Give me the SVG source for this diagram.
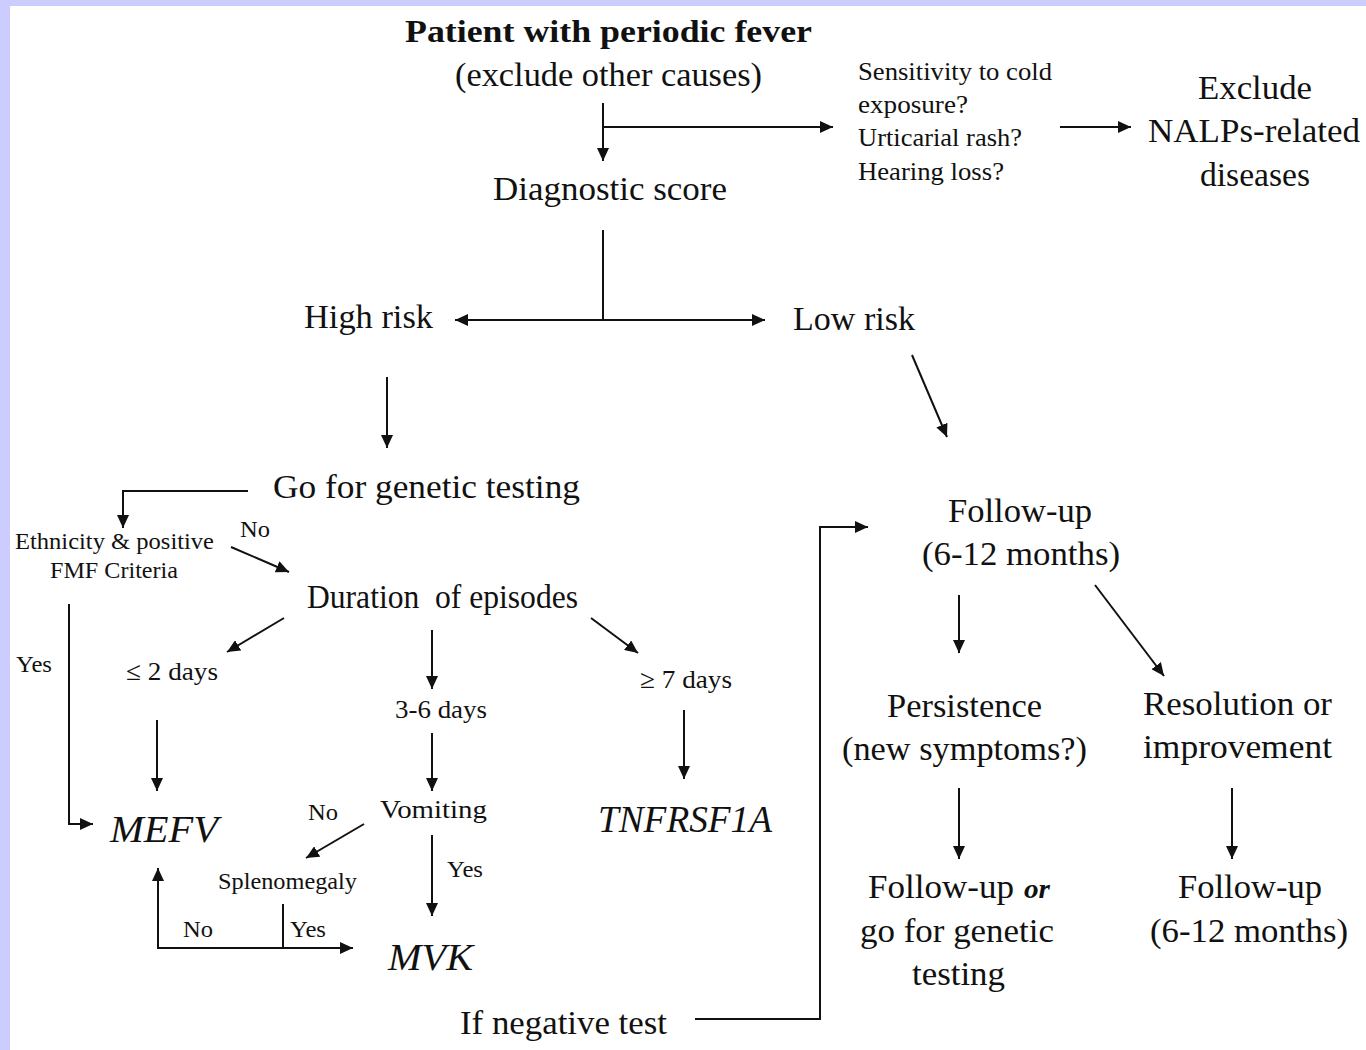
<svg xmlns="http://www.w3.org/2000/svg" width="1366" height="1050" viewBox="0 0 1366 1050" font-family="'Liberation Serif', Tinos, 'Times New Roman', Times, serif">
<defs>
<marker id="ah" markerUnits="userSpaceOnUse" markerWidth="14" markerHeight="12" refX="13" refY="6" orient="auto">
<path d="M0,0 L13,6 L0,12 z" fill="#111"/>
</marker>
<style>
text{fill:#111;}
.m{font-size:33px;}
.s{font-size:26px;}
.t{font-size:23px;}
.i{font-style:italic;font-size:37px;}
.b{font-weight:bold;font-size:31px;}
.c line,.c path,.c polyline{stroke:#111;stroke-width:2;fill:none;}
.a{marker-end:url(#ah);}
</style>
</defs>
<rect x="0" y="0" width="1366" height="1050" fill="#ccccff"/>
<rect x="10" y="6" width="1356" height="1044" fill="#ffffff"/>

<g id="n-patient">
<text class="b" x="405" y="42" textLength="407" lengthAdjust="spacingAndGlyphs">Patient with periodic fever</text>
<text class="m" x="455" y="86" textLength="307" lengthAdjust="spacingAndGlyphs">(exclude other causes)</text>
</g>
<g id="n-symptoms">
<text class="s" x="858" y="80" textLength="194" lengthAdjust="spacingAndGlyphs">Sensitivity to cold</text>
<text class="s" x="858" y="113" textLength="110" lengthAdjust="spacingAndGlyphs">exposure?</text>
<text class="s" x="858" y="146" textLength="164" lengthAdjust="spacingAndGlyphs">Urticarial rash?</text>
<text class="s" x="858" y="180" textLength="146" lengthAdjust="spacingAndGlyphs">Hearing loss?</text>
</g>
<g id="n-exclude">
<text class="m" x="1198" y="99" textLength="114" lengthAdjust="spacingAndGlyphs">Exclude</text>
<text class="m" x="1148" y="142" textLength="212" lengthAdjust="spacingAndGlyphs">NALPs-related</text>
<text class="m" x="1200" y="186" textLength="110" lengthAdjust="spacingAndGlyphs">diseases</text>
</g>
<g id="n-score">
<text class="m" x="493" y="200" textLength="234" lengthAdjust="spacingAndGlyphs">Diagnostic score</text>
</g>
<g id="n-high">
<text class="m" x="304" y="328" textLength="129" lengthAdjust="spacingAndGlyphs">High risk</text>
</g>
<g id="n-low">
<text class="m" x="793" y="330" textLength="122" lengthAdjust="spacingAndGlyphs">Low risk</text>
</g>
<g id="n-genetic">
<text class="m" x="273" y="498" textLength="307" lengthAdjust="spacingAndGlyphs">Go for genetic testing</text>
</g>
<g id="n-ethnicity">
<text class="t" x="15" y="549" textLength="199" lengthAdjust="spacingAndGlyphs">Ethnicity &amp; positive</text>
<text class="t" x="50" y="578" textLength="128" lengthAdjust="spacingAndGlyphs">FMF Criteria</text>
</g>
<g id="n-duration">
<text class="m" x="307" y="608" textLength="271" lengthAdjust="spacingAndGlyphs" xml:space="preserve">Duration  of episodes</text>
</g>
<g id="n-le2">
<text class="s" x="126" y="680" textLength="92" lengthAdjust="spacingAndGlyphs">≤ 2 days</text>
</g>
<g id="n-36">
<text class="s" x="395" y="718" textLength="92" lengthAdjust="spacingAndGlyphs">3-6 days</text>
</g>
<g id="n-ge7">
<text class="s" x="640" y="688" textLength="92" lengthAdjust="spacingAndGlyphs">≥ 7 days</text>
</g>
<g id="n-mefv">
<text class="i" x="110" y="842" textLength="108" lengthAdjust="spacingAndGlyphs">MEFV</text>
</g>
<g id="n-vomiting">
<text class="s" x="380" y="818" textLength="107" lengthAdjust="spacingAndGlyphs">Vomiting</text>
</g>
<g id="n-tnfrsf1a">
<text class="i" x="598" y="832" textLength="174" lengthAdjust="spacingAndGlyphs">TNFRSF1A</text>
</g>
<g id="n-splenomegaly">
<text class="t" x="218" y="889" textLength="139" lengthAdjust="spacingAndGlyphs">Splenomegaly</text>
</g>
<g id="n-mvk">
<text class="i" x="388" y="970" textLength="85" lengthAdjust="spacingAndGlyphs">MVK</text>
</g>
<g id="n-negative">
<text class="m" x="460" y="1034" textLength="207" lengthAdjust="spacingAndGlyphs">If negative test</text>
</g>
<g id="n-followup">
<text class="m" x="948" y="522" textLength="144" lengthAdjust="spacingAndGlyphs">Follow-up</text>
<text class="m" x="922" y="565" textLength="198" lengthAdjust="spacingAndGlyphs">(6-12 months)</text>
</g>
<g id="n-persistence">
<text class="m" x="887" y="717" textLength="155" lengthAdjust="spacingAndGlyphs">Persistence</text>
<text class="m" x="842" y="760" textLength="245" lengthAdjust="spacingAndGlyphs">(new symptoms?)</text>
</g>
<g id="n-resolution">
<text class="m" x="1143" y="715" textLength="189" lengthAdjust="spacingAndGlyphs">Resolution or</text>
<text class="m" x="1143" y="758" textLength="189" lengthAdjust="spacingAndGlyphs">improvement</text>
</g>
<g id="n-followup-or">
<text class="m" x="868" y="898" textLength="146" lengthAdjust="spacingAndGlyphs">Follow-up</text>
<text x="1024" y="898" font-style="italic" font-weight="bold" font-size="28" textLength="26" lengthAdjust="spacingAndGlyphs">or</text>
<text class="m" x="860" y="942" textLength="194" lengthAdjust="spacingAndGlyphs">go for genetic</text>
<text class="m" x="912" y="985" textLength="93" lengthAdjust="spacingAndGlyphs">testing</text>
</g>
<g id="n-followup2">
<text class="m" x="1178" y="898" textLength="144" lengthAdjust="spacingAndGlyphs">Follow-up</text>
<text class="m" x="1150" y="942" textLength="198" lengthAdjust="spacingAndGlyphs">(6-12 months)</text>
</g>

<g id="connectors" class="c">
<line class="a" x1="603" y1="103" x2="603" y2="161"/>
<line class="a" x1="603" y1="127" x2="833" y2="127"/>
<line class="a" x1="1060" y1="127" x2="1131" y2="127"/>
<line x1="603" y1="230" x2="603" y2="320"/>
<line class="a" x1="603" y1="320" x2="455" y2="320"/>
<line class="a" x1="603" y1="320" x2="765" y2="320"/>
<line class="a" x1="387" y1="377" x2="387" y2="448"/>
<line class="a" x1="912" y1="355" x2="947" y2="437"/>
<polyline class="a" points="248,491 123,491 123,528"/>
<line class="a" x1="231" y1="547" x2="289" y2="572"/>
<line class="a" x1="284" y1="618" x2="227" y2="652"/>
<line class="a" x1="432" y1="630" x2="432" y2="689"/>
<line class="a" x1="591" y1="618" x2="638" y2="653"/>
<line class="a" x1="684" y1="710" x2="684" y2="779"/>
<line class="a" x1="157" y1="720" x2="157" y2="791"/>
<line class="a" x1="432" y1="733" x2="432" y2="791"/>
<polyline class="a" points="69,604 69,824 93,824"/>
<line class="a" x1="364" y1="824" x2="306" y2="858"/>
<line class="a" x1="432" y1="835" x2="432" y2="916"/>
<line x1="283" y1="904" x2="283" y2="948"/>
<line class="a" x1="157" y1="948" x2="353" y2="948"/>
<line class="a" x1="158" y1="948" x2="158" y2="868"/>
<polyline class="a" points="695,1019 820,1019 820,527 868,527"/>
<line class="a" x1="959" y1="595" x2="959" y2="653"/>
<line class="a" x1="1095" y1="585" x2="1164" y2="676"/>
<line class="a" x1="959" y1="788" x2="959" y2="859"/>
<line class="a" x1="1232" y1="788" x2="1232" y2="859"/>
</g>

<g id="edge-labels">
<text class="t" x="240" y="537" textLength="30" lengthAdjust="spacingAndGlyphs">No</text>
<text class="t" x="16" y="672" textLength="36" lengthAdjust="spacingAndGlyphs">Yes</text>
<text class="t" x="308" y="820" textLength="30" lengthAdjust="spacingAndGlyphs">No</text>
<text class="t" x="447" y="877" textLength="36" lengthAdjust="spacingAndGlyphs">Yes</text>
<text class="t" x="183" y="937" textLength="30" lengthAdjust="spacingAndGlyphs">No</text>
<text class="t" x="290" y="937" textLength="36" lengthAdjust="spacingAndGlyphs">Yes</text>
</g>
</svg>
